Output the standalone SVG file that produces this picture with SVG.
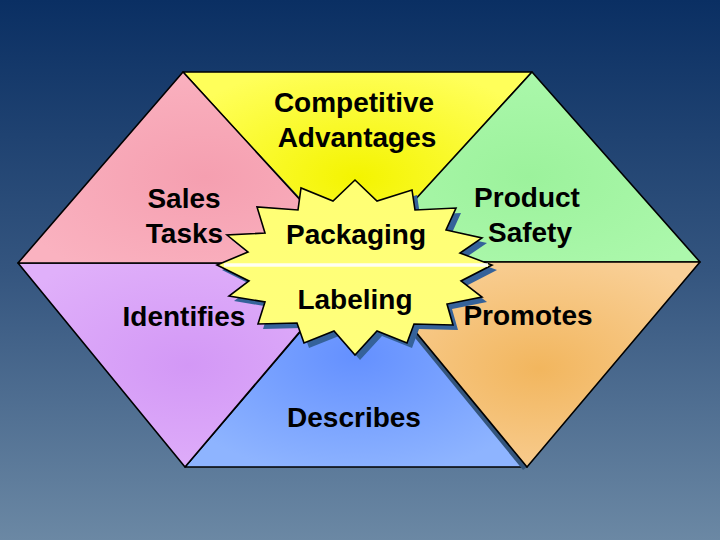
<svg xmlns="http://www.w3.org/2000/svg" width="720" height="540" viewBox="0 0 720 540">
  <defs>
    <linearGradient id="bg" x1="0" y1="0" x2="0" y2="1">
      <stop offset="0" stop-color="#0a2f63"/>
      <stop offset="0.5" stop-color="#34557f"/>
      <stop offset="1" stop-color="#6b88a4"/>
    </linearGradient>
    <radialGradient id="gYellow" cx="0.5" cy="0.55" r="0.6">
      <stop offset="0" stop-color="#f4f400"/>
      <stop offset="1" stop-color="#ffff5a"/>
    </radialGradient>
    <radialGradient id="gPink" cx="0.55" cy="0.55" r="0.6">
      <stop offset="0" stop-color="#f59fb0"/>
      <stop offset="1" stop-color="#fab2c0"/>
    </radialGradient>
    <radialGradient id="gGreen" cx="0.5" cy="0.55" r="0.6">
      <stop offset="0" stop-color="#9cf29c"/>
      <stop offset="1" stop-color="#acf8ac"/>
    </radialGradient>
    <radialGradient id="gOrange" cx="0.53" cy="0.52" r="0.6">
      <stop offset="0" stop-color="#f2b65e"/>
      <stop offset="1" stop-color="#f9d098"/>
    </radialGradient>
    <radialGradient id="gBlue" cx="0.5" cy="0.45" r="0.6">
      <stop offset="0" stop-color="#6490ff"/>
      <stop offset="1" stop-color="#8eb4ff"/>
    </radialGradient>
    <radialGradient id="gPurple" cx="0.5" cy="0.5" r="0.6">
      <stop offset="0" stop-color="#d398f6"/>
      <stop offset="1" stop-color="#e0b0fa"/>
    </radialGradient>
    <linearGradient id="gStar" x1="0" y1="0" x2="0" y2="1">
      <stop offset="0" stop-color="#ffff74"/>
      <stop offset="1" stop-color="#ffff7c"/>
    </linearGradient>
  </defs>
  <style>
    .seg { stroke: #000; stroke-width: 1.6; stroke-linejoin: round; }
    .shade { fill: #34557c; }
    .star { stroke: #000; stroke-width: 1.6; stroke-linejoin: miter; }
    .starShadow { fill: #35629a; }
    .lbl { font-family: "Liberation Sans", Arial, Helvetica, sans-serif; font-weight: bold; font-size: 28px; fill: #000; text-anchor: middle; }
  </style>

  <rect x="0" y="0" width="720" height="540" fill="url(#bg)"/>

  <g id="competitive-advantages">
    <polygon class="seg" fill="url(#gYellow)" points="183,72 532,72 358,264"/>
    <text class="lbl" x="354" y="111.5">Competitive</text>
    <text class="lbl" x="357" y="146.5">Advantages</text>
  </g>

  <g id="product-safety">
    <polygon class="seg" fill="url(#gGreen)" points="532,72 700,262 358,262"/>
    <text class="lbl" x="527" y="207">Product</text>
    <text class="lbl" x="530" y="242">Safety</text>
  </g>

  <g id="describes">
    <polygon class="seg" fill="url(#gBlue)" points="358,264 527,467 185,467"/>
    <text class="lbl" x="354" y="427">Describes</text>
  </g>

  <g id="identifies">
    <polygon class="seg" fill="url(#gPurple)" points="18,263 358,263 185,467"/>
    <text class="lbl" x="184" y="326">Identifies</text>
  </g>

  <g id="shadows">
    <polygon class="shade" points="246,140 302,200 300,205 245,144"/>
    <polygon class="shade" points="411,333 418,333 527,467 523,470"/>
  </g>

  <g id="sales-tasks">
    <polygon class="seg" fill="url(#gPink)" points="183,72 358,263 18,263"/>
    <text class="lbl" x="184" y="208">Sales</text>
    <text class="lbl" x="184.5" y="243">Tasks</text>
  </g>

  <g id="promotes">
    <polygon class="seg" fill="url(#gOrange)" points="358,262 700,262 527,467"/>
    <text class="lbl" x="528" y="325">Promotes</text>
  </g>

  <g id="center-star">
    <polygon class="starShadow" transform="translate(5,5)" points="217,265 248,252 227,235 265,233 257,207 298,210 301,188 333,201 355,180 377,201 412,190 415,210 456,208 446,230 482,238 460,253 492,265 461,281 482,297 447,304 453,325 414,324 407,343 377,331 355,355 334,331 304,343 297,323 258,324 265,302 229,296 249,281"/>
    <polygon class="star" fill="url(#gStar)" points="217,265 248,252 227,235 265,233 257,207 298,210 301,188 333,201 355,180 377,201 412,190 415,210 456,208 446,230 482,238 460,253 492,265 461,281 482,297 447,304 453,325 414,324 407,343 377,331 355,355 334,331 304,343 297,323 258,324 265,302 229,296 249,281"/>
    <line x1="224" y1="265" x2="488" y2="265" stroke="#fffff2" stroke-width="3.5"/>
  </g>

  <g id="packaging">
    <text class="lbl" x="356" y="244">Packaging</text>
  </g>
  <g id="labeling">
    <text class="lbl" x="355" y="309">Labeling</text>
  </g>
</svg>
